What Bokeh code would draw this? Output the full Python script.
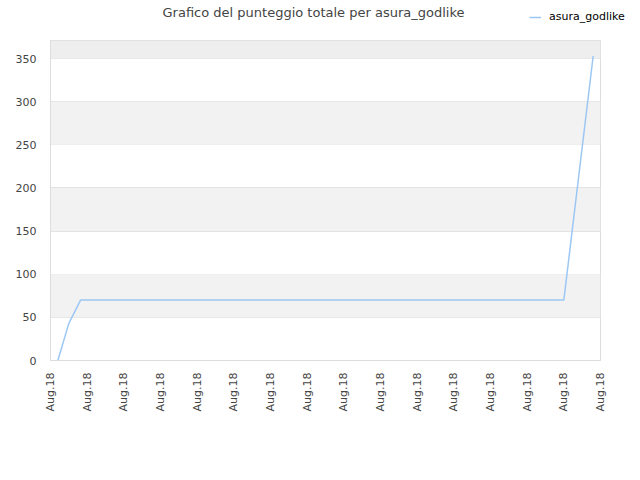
import math
from bokeh.plotting import figure
from bokeh.layouts import column, row
from bokeh.models import FixedTicker, BoxAnnotation, Legend, LegendItem, Label
from bokeh.embed import file_html
from bokeh.resources import INLINE

# dati
giorni = [0.2, 0.5, 0.82, 14.0, 14.8]
punteggio = [0, 43, 70, 70, 353]
tick_x = list(range(16))
tick_labels = ["Aug.18"] * 16
y_ticks = [0, 50, 100, 150, 200, 250, 300, 350]

colore = "#9cc7f4"

# intestazione: titolo e legenda
head = figure(width=632, height=32, output_backend="svg", toolbar_location=None,
              x_range=(0, 632), y_range=(0, 32), min_border=0)
head.axis.visible = False
head.grid.visible = False
head.outline_line_color = None
head.add_layout(Label(x=162, y=20, x_units="screen", y_units="screen", text_baseline="middle",
                      text="Grafico del punteggio totale per asura_godlike",
                      text_font="DejaVu Sans", text_font_size="13px", text_color="#444444"))
# serie nascosta, serve solo al simbolo della legenda
r_head = head.line(giorni, punteggio, line_color=colore, line_width=1.5, visible=False)
legend = Legend(items=[LegendItem(label="asura_godlike", renderers=[r_head])],
                location=(529, 9), padding=2, margin=0, glyph_width=12, glyph_height=12,
                label_standoff=8, border_line_color=None, background_fill_alpha=0,
                inactive_fill_alpha=0,
                label_text_font="DejaVu Sans", label_text_font_size="11px", label_text_color="#000000")
head.add_layout(legend, "center")

p = figure(width=632, height=432, output_backend="svg", toolbar_location=None,
           x_range=(0, 15), y_range=(0, 371),
           min_border_left=50, min_border_right=32, min_border_top=8, min_border_bottom=104)

# bande alternate
for lo, hi in [(50, 100), (150, 200), (250, 300)]:
    p.add_layout(BoxAnnotation(bottom=lo, top=hi, fill_color="#f2f2f2", fill_alpha=1, line_color=None, level="underlay"))
p.add_layout(BoxAnnotation(bottom=350, top=371, fill_color="#eeeeee", fill_alpha=1, line_color=None, level="underlay"))

p.line(giorni, punteggio, line_color=colore, line_width=1.5)

p.xgrid.visible = False
p.ygrid.grid_line_color = "#e3e3e3"
p.ygrid.level = "underlay"
p.outline_line_color = "#dddddd"

p.xaxis.ticker = FixedTicker(ticks=tick_x)
p.xaxis.major_label_overrides = {t: l for t, l in zip(tick_x, tick_labels)}
p.xaxis.major_label_orientation = math.pi / 2
p.yaxis.ticker = FixedTicker(ticks=y_ticks)

for ax in (p.xaxis[0], p.yaxis[0]):
    ax.axis_line_color = "#dddddd"
    ax.major_tick_line_color = None
    ax.minor_tick_line_color = None
    ax.major_label_text_font = "DejaVu Sans"
    ax.major_label_text_font_size = "11px"
    ax.major_label_text_color = "#444444"
p.yaxis.major_label_standoff = 8
p.xaxis.major_label_standoff = 6

open("out.html", "w").write(file_html(column(row(head), p), INLINE))
